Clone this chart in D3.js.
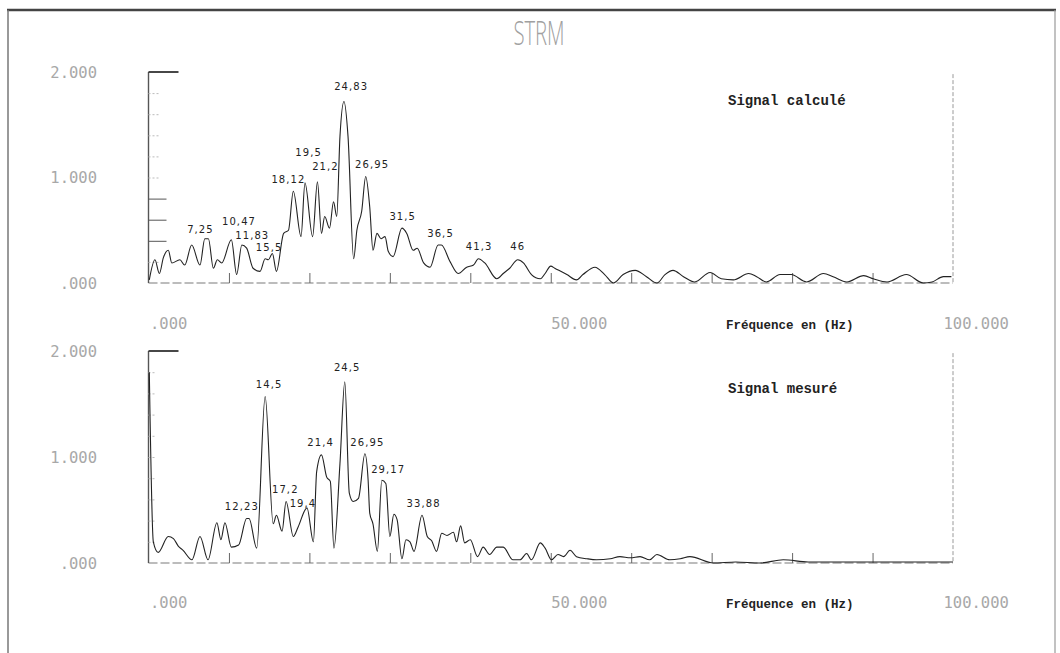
<!DOCTYPE html>
<html><head><meta charset="utf-8">
<script src="https://cdn.jsdelivr.net/npm/d3@7"></script>
<style>
html,body{margin:0;padding:0;background:#fff;}
svg{display:block;}
</style></head>
<body>
<svg id="chart" width="1060" height="653"></svg>
<script>
// ---------- DATA ----------
const title = "STRM";
const xTickLabelValues = [0, 50, 100];
const yTickLabelValues = [2, 1, 0];
const xTickValues = [10, 20, 30, 40, 50, 60, 70, 80, 90];
const yTickValues = [0.2, 0.4, 0.6, 0.8, 1.0, 1.2, 1.4, 1.6, 1.8];
const xAxisTitle = "Fréquence en (Hz)";

// Signal calculé (frequency Hz, amplitude)
const calcFreq = [0.1,0.8,1.35,1.85,2.46,2.9,3.9,4.5,5.37,6.4,7.0,7.45,8.06,8.56,9.1,10.3,10.96,11.6,12.2,13.0,13.86,14.5,14.9,15.4,15.9,16.8,17.4,18.0,18.96,19.45,20.4,21.0,21.5,21.9,22.5,23.0,23.4,23.8,24.3,24.8,25.5,25.9,26.5,27.0,27.5,27.9,28.4,28.9,29.4,29.8,30.4,31.5,32.1,32.9,33.4,34.2,35.0,36.0,36.4,37.5,38.5,39.55,40.4,41.0,41.8,43.3,44.1,44.9,45.9,46.6,47.6,48.7,49.3,50.0,50.5,52.0,53.2,54.0,55.5,56.7,57.8,59.0,60.5,61.9,63.2,64.2,65.2,66.5,67.9,69.8,71.2,72.7,74.6,75.6,76.8,78.5,79.9,81.8,83.9,85.1,86.8,88.9,90.1,91.8,94.2,96.3,97.4,98.8,99.8];
const calcVal  = [0.03,0.22,0.09,0.24,0.31,0.19,0.22,0.17,0.36,0.17,0.42,0.42,0.14,0.22,0.19,0.41,0.08,0.36,0.33,0.14,0.11,0.23,0.22,0.28,0.11,0.47,0.50,0.87,0.44,0.95,0.44,0.96,0.47,0.63,0.52,0.77,0.63,1.39,1.72,1.39,0.23,0.50,0.68,1.01,0.72,0.31,0.47,0.42,0.44,0.30,0.25,0.52,0.47,0.31,0.33,0.19,0.15,0.36,0.36,0.20,0.09,0.15,0.17,0.23,0.19,0.04,0.09,0.14,0.22,0.19,0.08,0.04,0.09,0.16,0.14,0.08,0.03,0.08,0.15,0.08,0.00,0.08,0.12,0.06,0.00,0.08,0.12,0.06,0.01,0.10,0.04,0.03,0.09,0.06,0.01,0.08,0.08,0.01,0.09,0.06,0.01,0.07,0.04,0.01,0.08,0.00,0.01,0.06,0.06];

// Signal mesuré
const mesFreq = [0.1,0.6,1.2,2.46,3.1,3.7,4.3,5.4,6.4,7.4,8.5,9.0,9.5,10.3,11.2,12.2,12.5,13.45,14.5,15.5,15.9,16.6,17.1,18.0,18.6,19.7,20.5,20.9,21.5,22.15,22.6,23.05,23.8,24.4,24.96,25.45,26.1,26.9,27.3,27.5,27.9,28.45,29.0,29.5,30.0,30.5,30.9,31.5,32.0,32.5,33.0,34.0,34.65,35.2,35.8,36.45,37.1,37.9,38.3,38.8,39.3,40.0,40.9,41.6,42.4,43.3,44.1,45.3,46.2,47.0,47.6,48.7,49.3,50.1,50.9,51.6,52.4,53.2,54.5,55.7,57.4,58.6,59.9,61.1,62.3,63.2,64.8,66.1,67.3,70.2,73.0,76.0,78.9,82.0,90.0,100.0];
const mesVal  = [1.80,0.20,0.10,0.25,0.23,0.16,0.12,0.03,0.25,0.03,0.38,0.22,0.38,0.15,0.17,0.42,0.42,0.14,1.57,0.37,0.45,0.30,0.58,0.25,0.34,0.52,0.20,0.86,1.02,0.81,0.77,0.14,0.94,1.71,0.66,0.58,0.61,1.03,0.78,0.47,0.37,0.11,0.78,0.75,0.25,0.46,0.41,0.04,0.22,0.20,0.11,0.45,0.25,0.21,0.11,0.28,0.26,0.29,0.20,0.35,0.19,0.22,0.06,0.15,0.08,0.15,0.15,0.03,0.03,0.09,0.03,0.19,0.14,0.03,0.08,0.06,0.12,0.06,0.04,0.03,0.04,0.06,0.05,0.06,0.03,0.08,0.03,0.04,0.06,0.00,0.01,0.00,0.03,0.01,0.01,0.01];

// Peak annotations (text, frequency, amplitude where the label sits)
const calcLabelText = ["7,25","10,47","11,83","15,5","18,12","19,5","21,2","24,83","26,95","31,5","36,5","41,3","46"];
const calcLabelFreq = [6.46,11.25,12.9,15.0,17.4,19.9,22.0,25.2,27.8,31.6,36.3,41.1,45.9];
const calcLabelVal  = [0.47,0.55,0.42,0.30,0.95,1.20,1.07,1.83,1.09,0.60,0.44,0.31,0.31];

const mesLabelText = ["12,23","14,5","17,2","19,4","21,4","24,5","26,95","29,17","33,88"];
const mesLabelFreq = [11.6,15.0,17.0,19.2,21.4,24.7,27.2,29.8,34.2];
const mesLabelVal  = [0.50,1.65,0.66,0.53,1.10,1.81,1.10,0.85,0.53];

const panelNames = ["Signal calculé", "Signal mesuré"];

// ---------- DRAW ----------
const svg = d3.select("#chart");

// frame
svg.append("line").attr("x1",7).attr("x2",1056).attr("y1",10).attr("y2",10).attr("stroke","#444").attr("stroke-width",2.5);
svg.append("line").attr("x1",8).attr("x2",8).attr("y1",10).attr("y2",653).attr("stroke","#777").attr("stroke-width",1.5);
svg.append("line").attr("x1",1055).attr("x2",1055).attr("y1",10).attr("y2",653).attr("stroke","#999").attr("stroke-width",1.2);

// title
svg.append("text").text(title)
  .attr("transform","translate(539,45) scale(0.78,1.25)")
  .attr("text-anchor","middle")
  .attr("font-family","'Open Sans', sans-serif").attr("font-weight",300)
  .attr("font-size",26).attr("fill","#a0a0a0");

const x = d3.scaleLinear().domain([0,100]).range([148.5,953]);

const panels = [
  {name: panelNames[0], freq: calcFreq, val: calcVal, lt: calcLabelText, lf: calcLabelFreq, lv: calcLabelVal, y0: 283, y2: 72, nameY: 105, axY: 329},
  {name: panelNames[1], freq: mesFreq, val: mesVal, lt: mesLabelText, lf: mesLabelFreq, lv: mesLabelVal, y0: 563, y2: 351, nameY: 393, axY: 608}
];

const fmt = v => d3.format(".3f")(v).replace(/^0/, "");
const xLabelShift = {0: 1, 50: 0, 100: -10};

panels.forEach((p, pi) => {
  const y = d3.scaleLinear().domain([0,2]).range([p.y0, p.y2]);
  const g = svg.append("g");

  // baseline (dashed, scanned look)
  g.append("line").attr("x1",x(0)).attr("x2",x(100)).attr("y1",y(0)).attr("y2",y(0))
    .attr("stroke","#7a7a7a").attr("stroke-width",1.2).attr("stroke-dasharray","9,3");
  // left axis
  g.append("line").attr("x1",x(0)).attr("x2",x(0)).attr("y1",y(0)).attr("y2",y(2))
    .attr("stroke","#555").attr("stroke-width",1.4);
  // top bracket
  g.append("line").attr("x1",x(0)).attr("x2",x(0)+30).attr("y1",y(2)).attr("y2",y(2))
    .attr("stroke","#333").attr("stroke-width",1.8);
  // right dashed line
  g.append("line").attr("x1",x(100)).attr("x2",x(100)).attr("y1",y(1.98)).attr("y2",y(0))
    .attr("stroke","#999").attr("stroke-width",1).attr("stroke-dasharray","4,2");

  // x ticks (upward)
  const xa = d3.axisBottom(x).tickValues(xTickValues).tickSize(-10).tickFormat("");
  const xg = g.append("g").attr("transform",`translate(0,${y(0)})`).call(xa);
  xg.select(".domain").remove();
  xg.selectAll("line").attr("stroke","#666").attr("stroke-width",1);

  // y ticks (inward)
  const strong = d => pi === 0 && d >= 0.35 && d <= 0.85;
  const ya = d3.axisRight(y).tickValues(yTickValues).tickSize(pi === 0 ? 10 : 8).tickFormat("");
  const yg = g.append("g").attr("transform",`translate(${x(0)},0)`).call(ya);
  yg.select(".domain").remove();
  yg.selectAll("line")
    .attr("x2", d => strong(d) ? 18 : (pi === 0 ? 10 : 8))
    .attr("stroke", d => strong(d) ? "#555" : "#bbb")
    .attr("stroke-width",1).attr("stroke-dasharray", d => strong(d) ? null : "2,2");

  // y tick labels
  const yl = d3.axisLeft(y).tickValues(yTickLabelValues).tickSize(0).tickPadding(0).tickFormat(fmt);
  const ylg = g.append("g").attr("transform","translate(97,0)").call(yl);
  ylg.select(".domain").remove();
  ylg.selectAll("text").attr("font-family","'DejaVu Sans Mono', monospace").attr("font-size",15.5)
    .attr("fill","#a8a8a8").attr("dy","0.35em");

  // x tick labels
  const xl = d3.axisBottom(x).tickValues(xTickLabelValues).tickSize(0).tickPadding(0).tickFormat(fmt);
  const xlg = g.append("g").attr("transform",`translate(0,${p.axY})`).call(xl);
  xlg.select(".domain").remove();
  xlg.selectAll("text").attr("font-family","'DejaVu Sans Mono', monospace").attr("font-size",15.5)
    .attr("fill","#a8a8a8").attr("text-anchor","start").attr("dy","0")
    .attr("dx", d => xLabelShift[d]);

  // axis title
  g.append("text").text(xAxisTitle).attr("x",726).attr("y",p.axY)
    .attr("font-family","'Liberation Mono', monospace").attr("font-weight","bold")
    .attr("font-size",12.5).attr("fill","#222");

  // panel name
  g.append("text").text(p.name).attr("x",728).attr("y",p.nameY)
    .attr("font-family","'Liberation Mono', monospace").attr("font-weight","bold")
    .attr("font-size",14).attr("fill","#222");

  // data line
  const pts = p.freq.map((f,i) => [f, p.val[i]]);
  g.append("path").datum(pts)
    .attr("d", d3.line().curve(d3.curveMonotoneX).x(d => x(d[0])).y(d => y(d[1])))
    .attr("fill","none").attr("stroke","#222").attr("stroke-width",1.1).attr("stroke-linejoin","round");

  // peak labels
  g.selectAll("text.pk").data(p.lt).join("text").attr("class","pk")
    .text(d => d)
    .attr("x",(d,i) => x(p.lf[i])).attr("y",(d,i) => y(p.lv[i]))
    .attr("text-anchor","middle")
    .attr("font-family","'DejaVu Sans', sans-serif").attr("font-size",10)
    .attr("letter-spacing",1.1).attr("fill","#222");
});
</script>
</body></html>
